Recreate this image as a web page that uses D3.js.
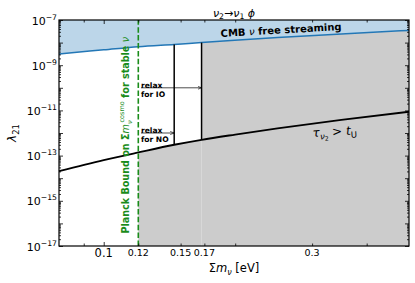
<!DOCTYPE html>
<html>
<head>
<meta charset="utf-8">
<script src="https://cdn.jsdelivr.net/npm/d3@7"></script>
<style>
body { margin: 0; background: #fff; }
text { font-family: "DejaVu Sans", sans-serif; }
</style>
</head>
<body>
<div id="chart"></div>
<script>
// CMB free streaming bound, log10(lambda_21) vs sum of masses [eV]
const cmbMass = [0.079, 0.1, 0.12, 0.145, 0.1675, 0.25, 0.35, 0.5];
const cmbLogLambda = [-8.50, -8.32, -8.18, -8.08, -8.00, -7.77, -7.62, -7.46];

// lifetime longer than age of universe
const lifeMass = [0.079, 0.1, 0.12, 0.145, 0.1675, 0.2, 0.25, 0.35, 0.5];
const lifeLogLambda = [-13.69, -13.2, -12.86, -12.52, -12.30, -12.07, -11.80, -11.42, -11.06];

const planckMass = 0.12;
const relaxNO = 0.145;
const relaxIO = 0.1675;

const xTickValues = [0.09, 0.1, 0.12, 0.15, 0.17, 0.2, 0.3, 0.4];
const xMajorLabels = [0.1];
const xMinorLabels = [0.12, 0.15, 0.17, 0.3];
const yLabelExps = [-7, -9, -11, -13, -15, -17];

const W = 415, H = 283;
const margin = { top: 20, right: 6, bottom: 37, left: 59 };

const svg = d3.select('#chart').append('svg')
    .attr('width', W).attr('height', H);

const x = d3.scaleLog().domain([0.079, 0.5]).range([margin.left, W - margin.right]);
const y = d3.scaleLog().domain([1e-17, 1e-7]).range([H - margin.bottom, margin.top]);

const cmb = cmbMass.map((m, i) => ({ m, l: Math.pow(10, cmbLogLambda[i]) }));
const life = lifeMass.map((m, i) => ({ m, l: Math.pow(10, lifeLogLambda[i]) }));
const cmbAt = m => cmb.find(d => d.m === m).l;
const lifeAt = m => life.find(d => d.m === m).l;

const plot = svg.append('g');

// grey excluded region
const greyArea = d3.area()
    .x(d => x(d.m))
    .y0(y(1e-17))
    .y1(d => y(d.l))
    .curve(d3.curveMonotoneX);

plot.append('path')
    .attr('d', greyArea(life.filter(d => d.m >= planckMass && d.m <= relaxIO)))
    .attr('fill', '#cccccc');
plot.append('path')
    .attr('d', greyArea(cmb.filter(d => d.m >= relaxIO)))
    .attr('fill', '#cccccc');

// blue band above CMB bound
plot.append('path')
    .attr('d', d3.area()
        .x(d => x(d.m))
        .y0(y(1e-7))
        .y1(d => y(d.l))
        .curve(d3.curveMonotoneX)(cmb))
    .attr('fill', '#bcd6e9');

const line = d3.line().x(d => x(d.m)).y(d => y(d.l)).curve(d3.curveMonotoneX);

plot.append('path')
    .attr('d', line(cmb))
    .attr('fill', 'none')
    .attr('stroke', '#2377b6')
    .attr('stroke-width', 1.5);

plot.append('path')
    .attr('d', line(life))
    .attr('fill', 'none')
    .attr('stroke', '#000')
    .attr('stroke-width', 1.8);

// vertical relaxed bounds
[relaxNO, relaxIO].forEach(m => {
    plot.append('line')
        .attr('x1', x(m)).attr('x2', x(m))
        .attr('y1', y(lifeAt(m))).attr('y2', y(cmbAt(m)))
        .attr('stroke', '#000')
        .attr('stroke-width', 1.5);
});

// Planck bound
plot.append('line')
    .attr('x1', x(planckMass)).attr('x2', x(planckMass))
    .attr('y1', y(1e-17)).attr('y2', y(1e-7))
    .attr('stroke', '#1a8c1a')
    .attr('stroke-width', 1.6)
    .attr('stroke-dasharray', '5.5,2.4');

const planckText = svg.append('text')
    .attr('transform', `translate(${x(planckMass) - 9},${y(Math.pow(10, -12.1))}) rotate(-90)`)
    .attr('text-anchor', 'middle')
    .attr('fill', '#1a8c1a')
    .style('font-size', '9.6px')
    .style('font-weight', 'bold');
planckText.append('tspan').text('Planck Bound on Σ');
planckText.append('tspan').style('font-style', 'italic').style('font-weight', 'normal').text('m');
planckText.append('tspan').attr('dy', 2.5).style('font-size', '6.5px').style('font-style', 'italic').style('font-weight', 'normal').text('ν');
planckText.append('tspan').attr('dy', -7.5).attr('dx', -2).style('font-size', '6.5px').style('font-weight', 'normal').text('cosmo');
planckText.append('tspan').attr('dy', 5).text(' for stable ');
planckText.append('tspan').style('font-style', 'italic').style('font-weight', 'normal').text('ν');

// relax annotations
const arrowStart = 0.1217;
svg.append('defs').append('marker')
    .attr('id', 'head')
    .attr('viewBox', '0 0 10 10')
    .attr('refX', 10).attr('refY', 5)
    .attr('markerWidth', 4).attr('markerHeight', 4)
    .attr('markerUnits', 'userSpaceOnUse')
    .attr('orient', 'auto')
    .append('path')
    .attr('d', 'M0,1L10,5L0,9')
    .attr('fill', 'none')
    .attr('stroke', '#000')
    .attr('stroke-width', 1.5);

[
    { end: relaxIO, l: 1e-10, label: 'for IO' },
    { end: relaxNO, l: 1e-12, label: 'for NO' }
].forEach(a => {
    svg.append('line')
        .attr('x1', x(arrowStart)).attr('x2', x(a.end))
        .attr('y1', y(a.l)).attr('y2', y(a.l))
        .attr('stroke', '#000')
        .attr('stroke-width', 0.7)
        .attr('marker-end', 'url(#head)');
    const t = svg.append('text')
        .attr('x', x(arrowStart))
        .attr('y', y(a.l))
        .style('font-size', '7.6px')
        .style('font-weight', 'bold');
    t.append('tspan').text('relax');
    t.append('tspan').attr('x', x(arrowStart)).attr('dy', 9).text(a.label);
});

// CMB label
const cmbText = svg.append('text')
    .attr('transform', `translate(${x(0.1854)},${y(Math.pow(10, -7.75))}) rotate(-3.3)`)
    .style('font-size', '10px')
    .style('font-weight', 'bold');
cmbText.append('tspan').text('CMB ');
cmbText.append('tspan').style('font-style', 'italic').style('font-weight', 'normal').text('ν');
cmbText.append('tspan').text(' free streaming');

// lifetime label
const tauText = svg.append('text')
    .attr('transform', `translate(${x(0.301)},${y(Math.pow(10, -12.18))}) rotate(-3.5)`)
    .style('font-size', '12px');
tauText.append('tspan').style('font-style', 'italic').text('τ');
tauText.append('tspan').attr('dy', 3).style('font-size', '8.5px').style('font-style', 'italic').text('ν');
tauText.append('tspan').attr('dy', 1.5).style('font-size', '6px').text('2');
tauText.append('tspan').attr('dy', -4.5).text(' > ');
tauText.append('tspan').style('font-style', 'italic').text('t');
tauText.append('tspan').attr('dy', 3).style('font-size', '8.5px').text('U');

// ticks, pointing inward on all four sides
const yMajor = d3.range(-17, -6).map(e => Math.pow(10, e));
const yMinor = [];
for (let e = -17; e < -7; e++) for (let k = 2; k < 10; k++) yMinor.push(k * Math.pow(10, e));
const xMinorTicks = xTickValues.filter(v => !xMajorLabels.includes(v));

const tickGroup = (axis, tx, ty) => svg.append('g')
    .attr('transform', `translate(${tx},${ty})`)
    .call(axis)
    .call(g => g.select('.domain').remove())
    .call(g => g.selectAll('line').attr('stroke', '#000').attr('stroke-width', 0.8));

tickGroup(d3.axisLeft(y).tickValues(yMajor).tickSize(-4).tickFormat(''), margin.left, 0);
tickGroup(d3.axisLeft(y).tickValues(yMinor).tickSize(-2).tickFormat(''), margin.left, 0);
tickGroup(d3.axisRight(y).tickValues(yMajor).tickSize(-4).tickFormat(''), W - margin.right, 0);
tickGroup(d3.axisRight(y).tickValues(yMinor).tickSize(-2).tickFormat(''), W - margin.right, 0);
tickGroup(d3.axisBottom(x).tickValues(xMajorLabels).tickSize(-4).tickFormat(''), 0, H - margin.bottom);
tickGroup(d3.axisBottom(x).tickValues(xMinorTicks).tickSize(-2.5).tickFormat(''), 0, H - margin.bottom);
tickGroup(d3.axisTop(x).tickValues(xMajorLabels).tickSize(-4).tickFormat(''), 0, margin.top);
tickGroup(d3.axisTop(x).tickValues(xMinorTicks).tickSize(-2.5).tickFormat(''), 0, margin.top);

// frame
svg.append('rect')
    .attr('x', margin.left).attr('y', margin.top)
    .attr('width', W - margin.left - margin.right)
    .attr('height', H - margin.top - margin.bottom)
    .attr('fill', 'none')
    .attr('stroke', '#000')
    .attr('stroke-width', 1.2);

// y tick labels
yLabelExps.forEach(e => {
    const t = svg.append('text')
        .attr('x', margin.left - 2)
        .attr('y', y(Math.pow(10, e)) + 4.5)
        .attr('text-anchor', 'end')
        .style('font-size', '11px');
    t.append('tspan').text('10');
    t.append('tspan').attr('dy', -5).style('font-size', '7.7px').text('−' + Math.abs(e));
});

// x tick labels
xMajorLabels.forEach(v => {
    svg.append('text')
        .attr('x', x(v)).attr('y', H - margin.bottom + 11)
        .attr('text-anchor', 'middle')
        .style('font-size', '11.5px')
        .text(v);
});
xMinorLabels.forEach(v => {
    svg.append('text')
        .attr('x', x(v)).attr('y', H - margin.bottom + 9.5)
        .attr('text-anchor', 'middle')
        .style('font-size', '9.5px')
        .text(v);
});

// axis titles
const xTitle = svg.append('text')
    .attr('x', (margin.left + W - margin.right) / 2)
    .attr('y', H - 11)
    .attr('text-anchor', 'middle')
    .style('font-size', '11.5px');
xTitle.append('tspan').text('Σ');
xTitle.append('tspan').style('font-style', 'italic').text('m');
xTitle.append('tspan').attr('dy', 2.5).style('font-size', '8px').style('font-style', 'italic').text('ν');
xTitle.append('tspan').attr('dy', -2.5).text(' [eV]');

const yTitle = svg.append('text')
    .attr('transform', `translate(16,${(margin.top + H - margin.bottom) / 2}) rotate(-90)`)
    .attr('text-anchor', 'middle')
    .style('font-size', '12px');
yTitle.append('tspan').style('font-style', 'italic').text('λ');
yTitle.append('tspan').attr('dy', 2.5).style('font-size', '8.5px').text('21');

const title = svg.append('text')
    .attr('x', (margin.left + W - margin.right) / 2)
    .attr('y', margin.top - 3)
    .attr('text-anchor', 'middle')
    .style('font-size', '11px');
title.append('tspan').style('font-style', 'italic').text('ν');
title.append('tspan').attr('dy', 2).style('font-size', '7.7px').text('2');
title.append('tspan').attr('dy', -2).text('→');
title.append('tspan').style('font-style', 'italic').text('ν');
title.append('tspan').attr('dy', 2).style('font-size', '7.7px').text('1');
title.append('tspan').attr('dy', -2).style('font-style', 'italic').text(' ϕ');
</script>
</body>
</html>
